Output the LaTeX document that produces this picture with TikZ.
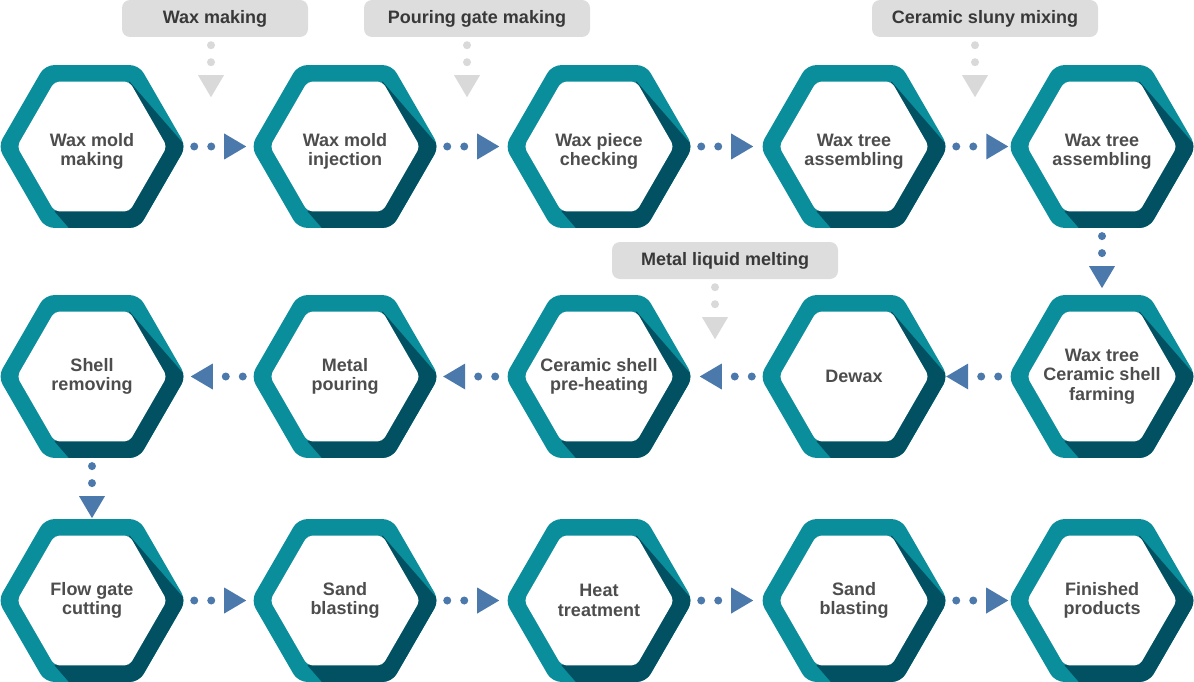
\documentclass[tikz,border=0pt]{standalone}
\usepackage{fontspec}
\setmainfont{Liberation Sans}
\usetikzlibrary{shapes.geometric,calc,decorations.markings,backgrounds}
\definecolor{hexlight}{RGB}{11,142,156}
\definecolor{hexdark}{RGB}{1,81,98}
\definecolor{textgray}{RGB}{77,77,77}
\definecolor{linkblue}{RGB}{76,121,172}
\definecolor{linkgray}{RGB}{217,217,217}
\definecolor{boxgray}{RGB}{221,221,221}
\definecolor{labeltext}{RGB}{56,56,56}
\newcommand\hexring[1]{%
  \begin{scope}[shift={(#1.center)}]
    \begin{scope}
      \clip[rounded corners=9pt] (0,81.4) \foreach \a in {60,0,...,-240} {-- (\a:94)} -- cycle;
      \fill[hexlight] (-100,-100) rectangle (100,100);
      \fill[hexdark] (60:75) -- ++(200,-230) -- ($(240:75)+(200,-230)$) -- (240:75) -- cycle;
    \end{scope}
    \fill[white, rounded corners=5pt] (0,64.95) \foreach \a in {60,0,...,-240} {-- (\a:75)} -- cycle;
  \end{scope}}
\begin{document}
\begin{tikzpicture}[x=1pt,y=1pt,
  hexstep/.style={regular polygon, regular polygon sides=6, minimum size=188pt, inner sep=0pt,
    text=textgray, align=center, font=\bfseries\fontsize{18}{19.5}\selectfont},
  toprow/.style={text height=42pt},
  labelbox/.style={rectangle, rounded corners=8pt, fill=boxgray, text=labeltext,
    font=\bfseries\fontsize{18}{20}\selectfont, minimum height=37pt, inner sep=0pt},
  flowlink/.style={postaction={decorate}, decoration={markings,
    mark=at position 8pt with {\fill[#1] (0,0) circle (4pt);},
    mark=at position 25pt with {\fill[#1] (0,0) circle (4pt);},
    mark=at position 38pt with {\fill[#1] (0pt,13pt) -- (22pt,0pt) -- (0pt,-13pt) -- cycle;}}}]
\useasboundingbox (0,0) rectangle (1194,-682);
\node[hexstep, toprow] (hex0) at (92,-146.5) {Wax mold\\making};
\node[hexstep, toprow] (hex1) at (345,-146.5) {Wax mold\\injection};
\node[hexstep, toprow] (hex2) at (599,-146.5) {Wax piece\\checking};
\node[hexstep, toprow] (hex3) at (854,-146.5) {Wax tree\\assembling};
\node[hexstep, toprow] (hex4) at (1102,-146.5) {Wax tree\\assembling};
\node[hexstep] (hex5) at (1102,-376.5) {Wax tree\\Ceramic shell\\farming};
\node[hexstep] (hex6) at (854,-376.5) {Dewax};
\node[hexstep] (hex7) at (599,-376.5) {Ceramic shell\\pre-heating};
\node[hexstep] (hex8) at (345,-376.5) {Metal\\pouring};
\node[hexstep] (hex9) at (92,-376.5) {Shell\\removing};
\node[hexstep] (hex10) at (92,-600.5) {Flow gate\\cutting};
\node[hexstep] (hex11) at (345,-600.5) {Sand\\blasting};
\node[hexstep] (hex12) at (599,-600.5) {Heat\\treatment};
\node[hexstep] (hex13) at (854,-600.5) {Sand\\blasting};
\node[hexstep] (hex14) at (1102,-600.5) {Finished\\products};
\begin{pgfonlayer}{background}
\foreach \n in {hex0,hex1,hex2,hex3,hex4,hex5,hex6,hex7,hex8,hex9,hex10,hex11,hex12,hex13,hex14}
  {\hexring{\n}}
\end{pgfonlayer}
\path[flowlink=linkblue] (hex0) -- (hex1);
\path[flowlink=linkblue] (hex1) -- (hex2);
\path[flowlink=linkblue] (hex2) -- (hex3);
\path[flowlink=linkblue] (hex3) -- (hex4);
\path[flowlink=linkblue] (hex4) -- (hex5);
\path[flowlink=linkblue] (hex5) -- (hex6);
\path[flowlink=linkblue] (hex6) -- (hex7);
\path[flowlink=linkblue] (hex7) -- (hex8);
\path[flowlink=linkblue] (hex8) -- (hex9);
\path[flowlink=linkblue] (hex9) -- (hex10);
\path[flowlink=linkblue] (hex10) -- (hex11);
\path[flowlink=linkblue] (hex11) -- (hex12);
\path[flowlink=linkblue] (hex12) -- (hex13);
\path[flowlink=linkblue] (hex13) -- (hex14);
\node[labelbox, minimum width=186pt] (lab0) at (215,-18.5) {Wax making};
\node[labelbox, minimum width=226pt] (lab1) at (477,-18.5) {Pouring gate making};
\node[labelbox, minimum width=226pt] (lab2) at (985,-18.5) {Ceramic sluny mixing};
\node[labelbox, minimum width=226pt] (lab3) at (725,-260.5) {Metal liquid melting};
\coordinate (lab0end) at (211,-104);
\coordinate (lab1end) at (467,-104);
\coordinate (lab2end) at (975,-104);
\coordinate (lab3end) at (715,-346);
\path[flowlink=linkgray] (lab0.south -| lab0end) -- (lab0end);
\path[flowlink=linkgray] (lab1.south -| lab1end) -- (lab1end);
\path[flowlink=linkgray] (lab2.south -| lab2end) -- (lab2end);
\path[flowlink=linkgray] (lab3.south -| lab3end) -- (lab3end);
\end{tikzpicture}
\end{document}
